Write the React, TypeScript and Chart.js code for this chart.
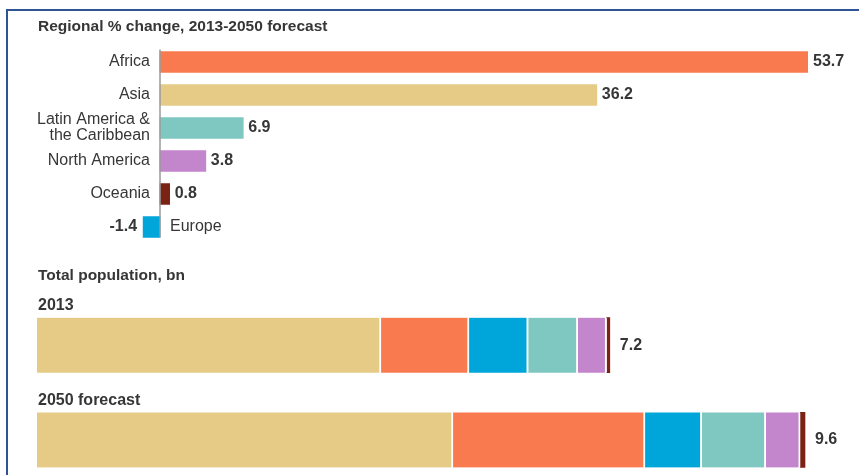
import React, { useEffect, useRef } from "react";
import { Chart, registerables } from "chart.js";

Chart.register(...registerables);

// ---------- data ----------
const regions = ["Africa", "Asia", "Latin America & the Caribbean", "North America", "Oceania", "Europe"];
const regionLabelLines = [["Africa"], ["Asia"], ["Latin America &", "the Caribbean"], ["North America"], ["Oceania"], ["Europe"]];
const pctChange = [53.7, 36.2, 6.9, 3.8, 0.8, -1.4];
const regionColors = ["#F97A4E", "#E6CB86", "#7FC8C2", "#C385CB", "#7A2214", "#00A6DA"];

const popCategories = ["2013", "2050 forecast"];
const popSeriesNames = ["Asia", "Africa", "Europe", "Latin America & the Caribbean", "North America", "Oceania"];
const popAsia = [4.3, 5.2];
const popAfrica = [1.1, 2.4];
const popEurope = [0.74, 0.71];
const popLatAm = [0.62, 0.8];
const popNorthAm = [0.36, 0.43];
const popOceania = [0.04, 0.06];
const popColors = ["#E6CB86", "#F97A4E", "#00A6DA", "#7FC8C2", "#C385CB", "#7A2214"];

const FONT = "'Liberation Sans', Arial, sans-serif";
const TEXT = "#363636";

export default function App() {
  const topRef = useRef<HTMLCanvasElement>(null);
  const botRef = useRef<HTMLCanvasElement>(null);

  useEffect(() => {
    const topLabels = {
      id: "topLabels",
      afterDatasetsDraw(chart: any) {
        const ctx = chart.ctx;
        const xs = chart.scales.x;
        const meta = chart.getDatasetMeta(0);
        const x0 = xs.getPixelForValue(0);
        ctx.save();
        // zero axis line
        ctx.strokeStyle = "#9a9a9a";
        ctx.lineWidth = 1.5;
        ctx.beginPath();
        ctx.moveTo(x0, chart.chartArea.top + 4);
        ctx.lineTo(x0, chart.chartArea.bottom - 6);
        ctx.stroke();
        ctx.textBaseline = "middle";
        meta.data.forEach((bar: any, i: number) => {
          const v = pctChange[i];
          const y = bar.y;
          const lines = regionLabelLines[i];
          ctx.fillStyle = TEXT;
          ctx.font = `16px ${FONT}`;
          if (v >= 0) {
            ctx.textAlign = "right";
            lines.forEach((ln, k) => {
              ctx.fillText(ln, x0 - 10, y + (k - (lines.length - 1) / 2) * 16);
            });
            ctx.font = `bold 16px ${FONT}`;
            ctx.textAlign = "left";
            ctx.fillText(v.toFixed(1), xs.getPixelForValue(v) + 5, y);
          } else {
            ctx.textAlign = "left";
            lines.forEach((ln, k) => {
              ctx.fillText(ln, x0 + 10, y + (k - (lines.length - 1) / 2) * 16);
            });
            ctx.font = `bold 16px ${FONT}`;
            ctx.textAlign = "right";
            ctx.fillText(v.toFixed(1), xs.getPixelForValue(v) - 6, y);
          }
        });
        ctx.restore();
      },
    };

    const top = new Chart(topRef.current!, {
      type: "bar",
      data: {
        labels: regions,
        datasets: [
          {
            data: pctChange,
            backgroundColor: regionColors,
            borderWidth: 0,
            barThickness: 21,
          },
        ],
      },
      options: {
        indexAxis: "y",
        animation: false,
        responsive: false,
        maintainAspectRatio: false,
        layout: { padding: { left: 140.7, right: 51, top: 45.5, bottom: 6.5 } },
        plugins: { legend: { display: false }, tooltip: { enabled: false }, title: { display: false } },
        scales: {
          x: { type: "linear", min: -1.6, max: 53.7, display: false },
          y: { type: "category", display: false, offset: true },
        },
      },
      plugins: [topLabels],
    });

    const popSeries = [popAsia, popAfrica, popEurope, popLatAm, popNorthAm, popOceania];

    const botLabels = {
      id: "botLabels",
      afterDatasetsDraw(chart: any) {
        const ctx = chart.ctx;
        const xs = chart.scales.x;
        const ys = chart.scales.y;
        ctx.save();
        ctx.fillStyle = TEXT;
        popCategories.forEach((cat, i) => {
          const yc = ys.getPixelForValue(i);
          const total = popSeries.reduce((s, arr) => s + arr[i], 0);
          ctx.font = `bold 16px ${FONT}`;
          ctx.textAlign = "left";
          ctx.textBaseline = "middle";
          ctx.fillText(cat, 38, yc - 27.5 - 12);
          ctx.fillText(total.toFixed(1), xs.getPixelForValue(total) + 10, yc);
        });
        ctx.restore();
      },
    };

    const bot = new Chart(botRef.current!, {
      type: "bar",
      data: {
        labels: popCategories,
        datasets: popSeries.map((arr, k) => ({
          label: popSeriesNames[k],
          data: arr,
          backgroundColor: popColors[k],
          borderColor: "#ffffff",
          borderWidth: k === popSeries.length - 1 ? 0 : { right: 2, left: 0, top: 0, bottom: 0 },
          borderSkipped: false,
          barThickness: 55,
        })),
      },
      options: {
        indexAxis: "y",
        animation: false,
        responsive: false,
        maintainAspectRatio: false,
        layout: { padding: { left: 37, right: 22, top: 47.75, bottom: 12.75 } },
        plugins: { legend: { display: false }, tooltip: { enabled: false }, title: { display: false } },
        scales: {
          x: { type: "linear", min: 0, max: 10, stacked: true, display: false },
          y: { type: "category", stacked: true, display: false, offset: true },
        },
      },
      plugins: [botLabels],
    });

    return () => {
      top.destroy();
      bot.destroy();
    };
  }, []);

  return (
    <div
      style={{
        position: "absolute",
        left: 0,
        top: 0,
        width: 859,
        height: 475,
        overflow: "hidden",
        background: "#ffffff",
        fontFamily: FONT,
      }}
    >
      <canvas ref={topRef} width={859} height={250} style={{ position: "absolute", left: 0, top: 0, width: 859, height: 250 }} />
      <canvas ref={botRef} width={859} height={250} style={{ position: "absolute", left: 0, top: 250, width: 859, height: 250 }} />
      <div style={{ position: "absolute", left: 7, top: 9, width: 852, height: 2, background: "#2F5496" }} />
      <div style={{ position: "absolute", left: 6, top: 9, width: 2, height: 466, background: "#2F5496" }} />
      <div
        style={{
          position: "absolute",
          left: 38,
          top: 16,
          fontSize: 15.5,
          fontWeight: "bold",
          color: TEXT,
          whiteSpace: "nowrap",
          lineHeight: "20px",
        }}
      >
        Regional % change, 2013-2050 forecast
      </div>
      <div
        style={{
          position: "absolute",
          left: 38,
          top: 265,
          fontSize: 15.5,
          fontWeight: "bold",
          color: TEXT,
          whiteSpace: "nowrap",
          lineHeight: "20px",
        }}
      >
        Total population, bn
      </div>
    </div>
  );
}
